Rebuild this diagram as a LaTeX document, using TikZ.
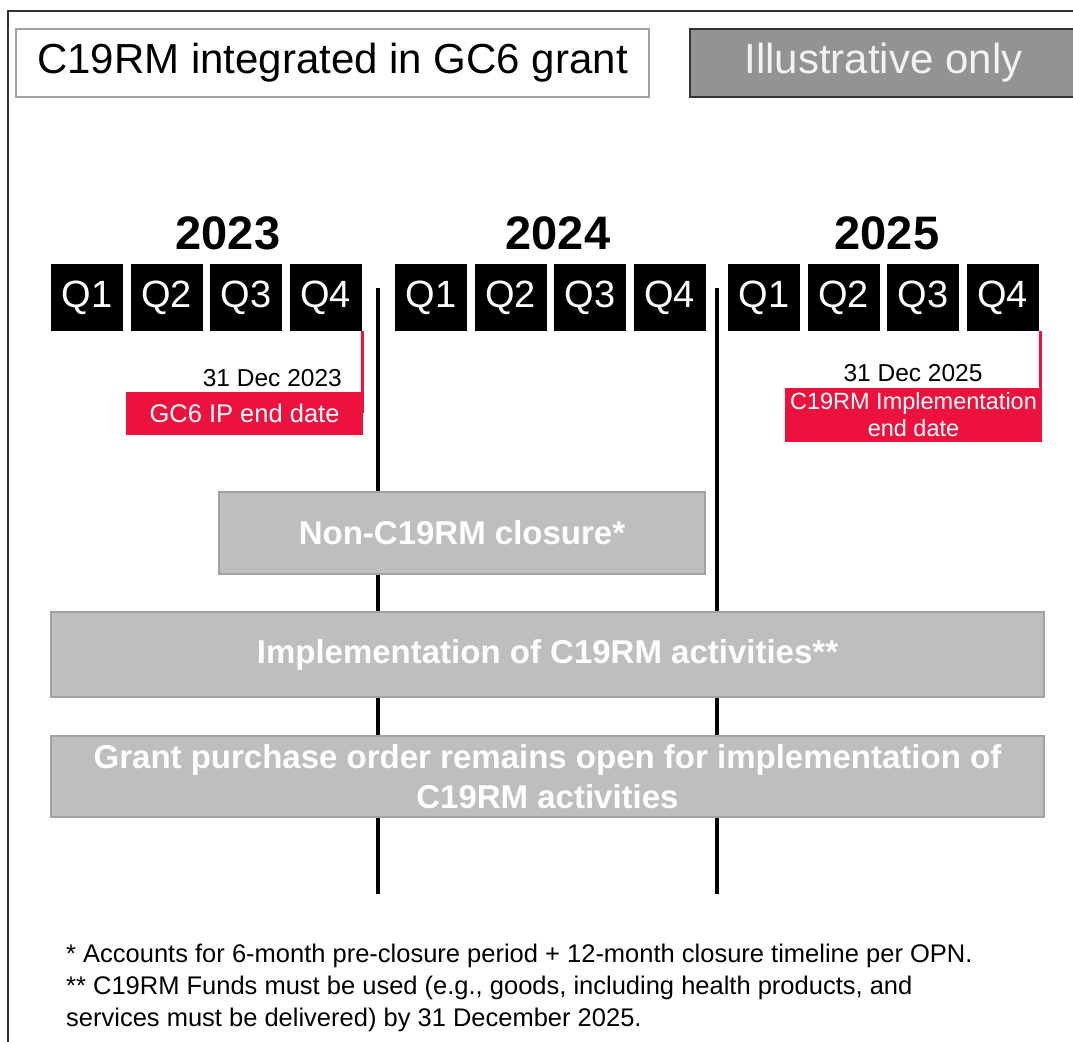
\documentclass[tikz,border=0pt]{standalone}
\usepackage{fontspec}
\setmainfont{Liberation Sans}
\usetikzlibrary{positioning}

\definecolor{barfill}{RGB}{188,190,192}
\definecolor{barline}{RGB}{160,162,164}
\definecolor{endred}{RGB}{237,17,62}
\definecolor{tagfill}{RGB}{147,147,147}
\definecolor{frameline}{RGB}{51,51,51}

\tikzset{
  quarter/.style={fill=black, text=white, minimum width=72pt, minimum height=67pt,
    inner sep=0pt, font=\fontsize{38}{40}\selectfont},
  yearlabel/.style={inner sep=0pt, font=\fontsize{47}{50}\selectfont\bfseries},
  gbar/.style={fill=barfill, draw=barline, line width=1.2pt, text=white, inner sep=0pt,
    align=center, font=\fontsize{33}{40}\selectfont\bfseries},
  redtag/.style={fill=endred, text=white, inner sep=0pt, align=center,
    font=\fontsize{23.5}{27}\selectfont},
  datelabel/.style={inner sep=0pt, font=\fontsize{24.5}{28}\selectfont},
  redline/.style={draw=endred, line width=3pt},
  divider/.style={line width=3.5pt},
}

\begin{document}
\begin{tikzpicture}[x=1pt,y=-1pt]
	\useasboundingbox (0,0) rectangle (1073,1041);
	% frame
	\draw[frameline, line width=2pt] (1080,11) -- (8,11) -- (8,1050);
	% header
	\node[draw=barline, line width=1.2pt, minimum width=633pt, minimum height=68pt, inner sep=0pt,
		font=\fontsize{42}{46}\selectfont] (title) at (332.5,63) {C19RM integrated in GC6 grant};
	\node[fill=tagfill, draw=frameline, line width=1.5pt, text={rgb,255:red,242;green,242;blue,242},
		minimum width=387pt, minimum height=68pt, inner sep=0pt,
		font=\fontsize{42}{46}\selectfont] (illus) at (883.5,63) {Illustrative only};

	% year dividers
	\draw[divider] (378,288) coordinate (div1top) -- (378,894) coordinate (div1bot);
	\draw[divider] (717,288) coordinate (div2top) -- (717,894) coordinate (div2bot);

	% years and quarters
	\foreach \yr/\xs/\xl in {2023/51/228, 2024/395/558, 2025/728/887}{
		\node[yearlabel] (y\yr) at (\xl,233) {\yr};
		\foreach \q in {1,...,4}
			\node[quarter] (q\yr-\q) at ({\xs+36+79.5*(\q-1)},297.5) {Q\q};
	}

	% end dates
	\node[datelabel, anchor=base east] (d2023) at (342,386) {31 Dec 2023};
	\node[redtag, minimum width=237pt, minimum height=43pt, font=\fontsize{25.5}{28}\selectfont]
		(gc6end) at (244.5,413.5) {GC6 IP end date};
	\draw[redline] (362,331) -- (362,413);

	\node[datelabel, anchor=base] (d2025) at (913,381) {31 Dec 2025};
	\node[redtag, minimum width=257pt, minimum height=54pt] (c19end) at (913.5,415)
		{C19RM Implementation\\end date};
	\draw[redline] (1040,331) -- (1040,389);

	% bars
	\node[gbar, minimum width=486pt, minimum height=82pt] (closure) at (462,533) {Non-C19RM closure*};
	\node[gbar, minimum width=993pt, minimum height=85pt] (impl) at (547.5,654.5)
		{Implementation of C19RM activities**};
	\node[gbar, minimum width=993pt, minimum height=81pt] (grant) at (547.5,776.5)
		{Grant purchase order remains open for implementation of\\C19RM activities};

	% notes
	\node[anchor=base west, inner sep=0pt, align=left, font=\fontsize{25.5}{32}\selectfont] (notes) at (66,1026)
		{* Accounts for 6-month pre-closure period + 12-month closure timeline per OPN.\\
		 ** C19RM Funds must be used (e.g., goods, including health products, and\\
		 services must be delivered) by 31 December 2025.};
\end{tikzpicture}
\end{document}
